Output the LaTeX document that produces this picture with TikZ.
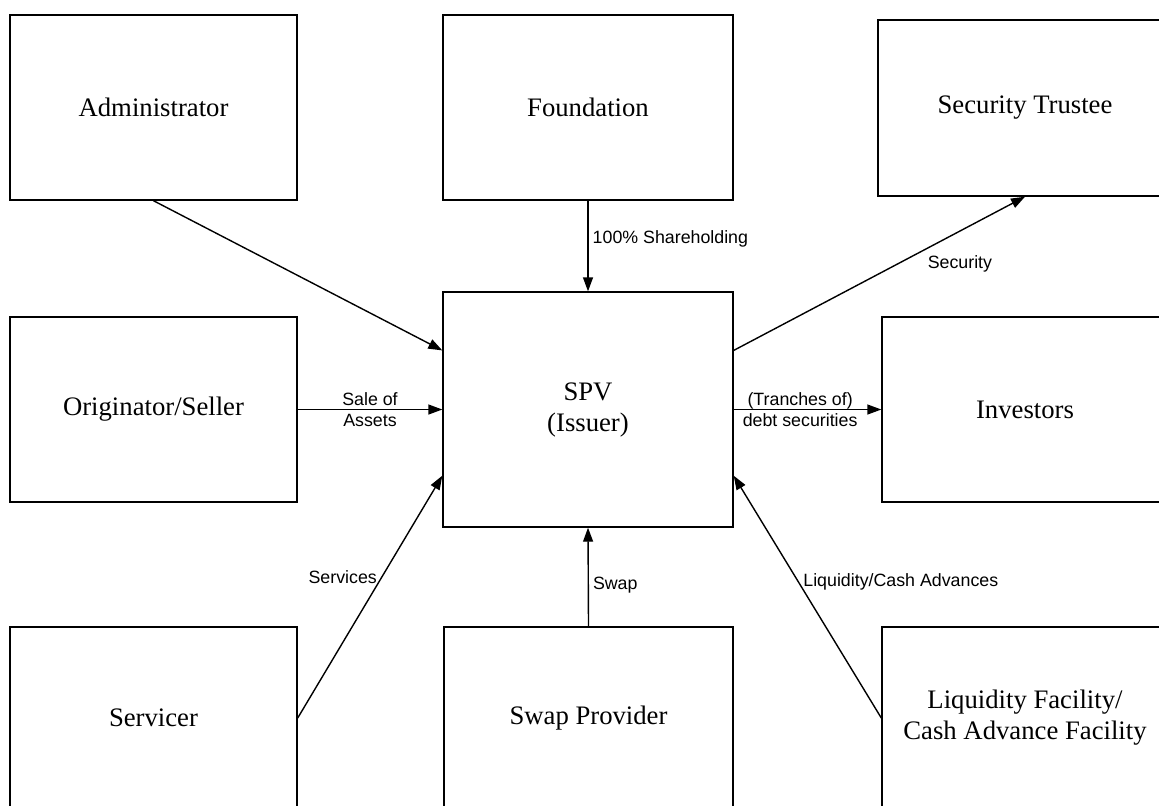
\documentclass[tikz,border=0pt]{standalone}
\usepackage{fontspec}
\setmainfont{Liberation Serif}
\setsansfont{Liberation Sans}
\usetikzlibrary{arrows.meta,calc}

\begin{document}
\begin{tikzpicture}
[x=0.5pt, y=-0.5pt,
party/.style={draw, line width=0.7pt, inner sep=0pt, align=center,
  font=\fontsize{13.35}{15.5}\selectfont},
flow/.style={draw, line width=0.7pt, -{Triangle[length=7pt,width=5pt]}},
tag/.style={font=\sffamily\fontsize{8.9}{10.6}\selectfont, align=center, inner sep=2pt},
]
\useasboundingbox (0,0) rectangle (1159,805);
\clip (0,0) rectangle (1159,805);

% parties
\node[party, minimum width=143.5pt, minimum height=92.5pt] (admin) at (153.5,107.5) {Administrator};
\node[party, minimum width=145pt, minimum height=92.5pt] (found) at (588,107.5) {Foundation};
\node[party, minimum width=147pt, minimum height=88pt] (trust) at (1025,108) {Security Trustee};
\node[party, minimum width=143.5pt, minimum height=92.5pt] (orig) at (153.5,409.5) {Originator/Seller};
\node[party, minimum width=145pt, minimum height=117.5pt] (spv) at (588,409.5) {SPV\\(Issuer)};
\node[party, minimum width=143pt, minimum height=92.5pt] (inv) at (1025,409.5) {Investors};
\node[party, minimum width=143.5pt, minimum height=91pt] (serv) at (153.5,718) {Servicer};
\node[party, minimum width=144.5pt, minimum height=91pt] (swap) at (588.5,718) {Swap Provider};
\node[party, minimum width=143pt, minimum height=91pt] (liq) at (1025,718) {Liquidity Facility/\\Cash Advance Facility};

% flows
\draw[flow] (admin.south) -- ($(spv.north west)!0.25!(spv.south west)$);
\draw[flow] (found.south) -- node[tag, right, pos=0.42] {100\% Shareholding} (spv.north);
\draw[flow] ($(spv.north east)!0.25!(spv.south east)$) -- node[tag, below right, pos=0.65] {Security} (trust.south);
\draw[flow] (orig.east) -- node[tag] {Sale of\\Assets} (spv.west);
\draw[flow] (spv.east) -- node[tag, pos=0.45] {(Tranches of)\\debt securities} (inv.west);
\draw[flow] (serv.east) -- node[tag, left, pos=0.58] {Services} ($(spv.north west)!0.78!(spv.south west)$);
\draw[flow] (swap.north) -- node[tag, right, pos=0.42] {Swap} (spv.south);
\draw[flow] (liq.west) -- node[tag, right, pos=0.56] {Liquidity/Cash Advances} ($(spv.north east)!0.78!(spv.south east)$);
\end{tikzpicture}
\end{document}
